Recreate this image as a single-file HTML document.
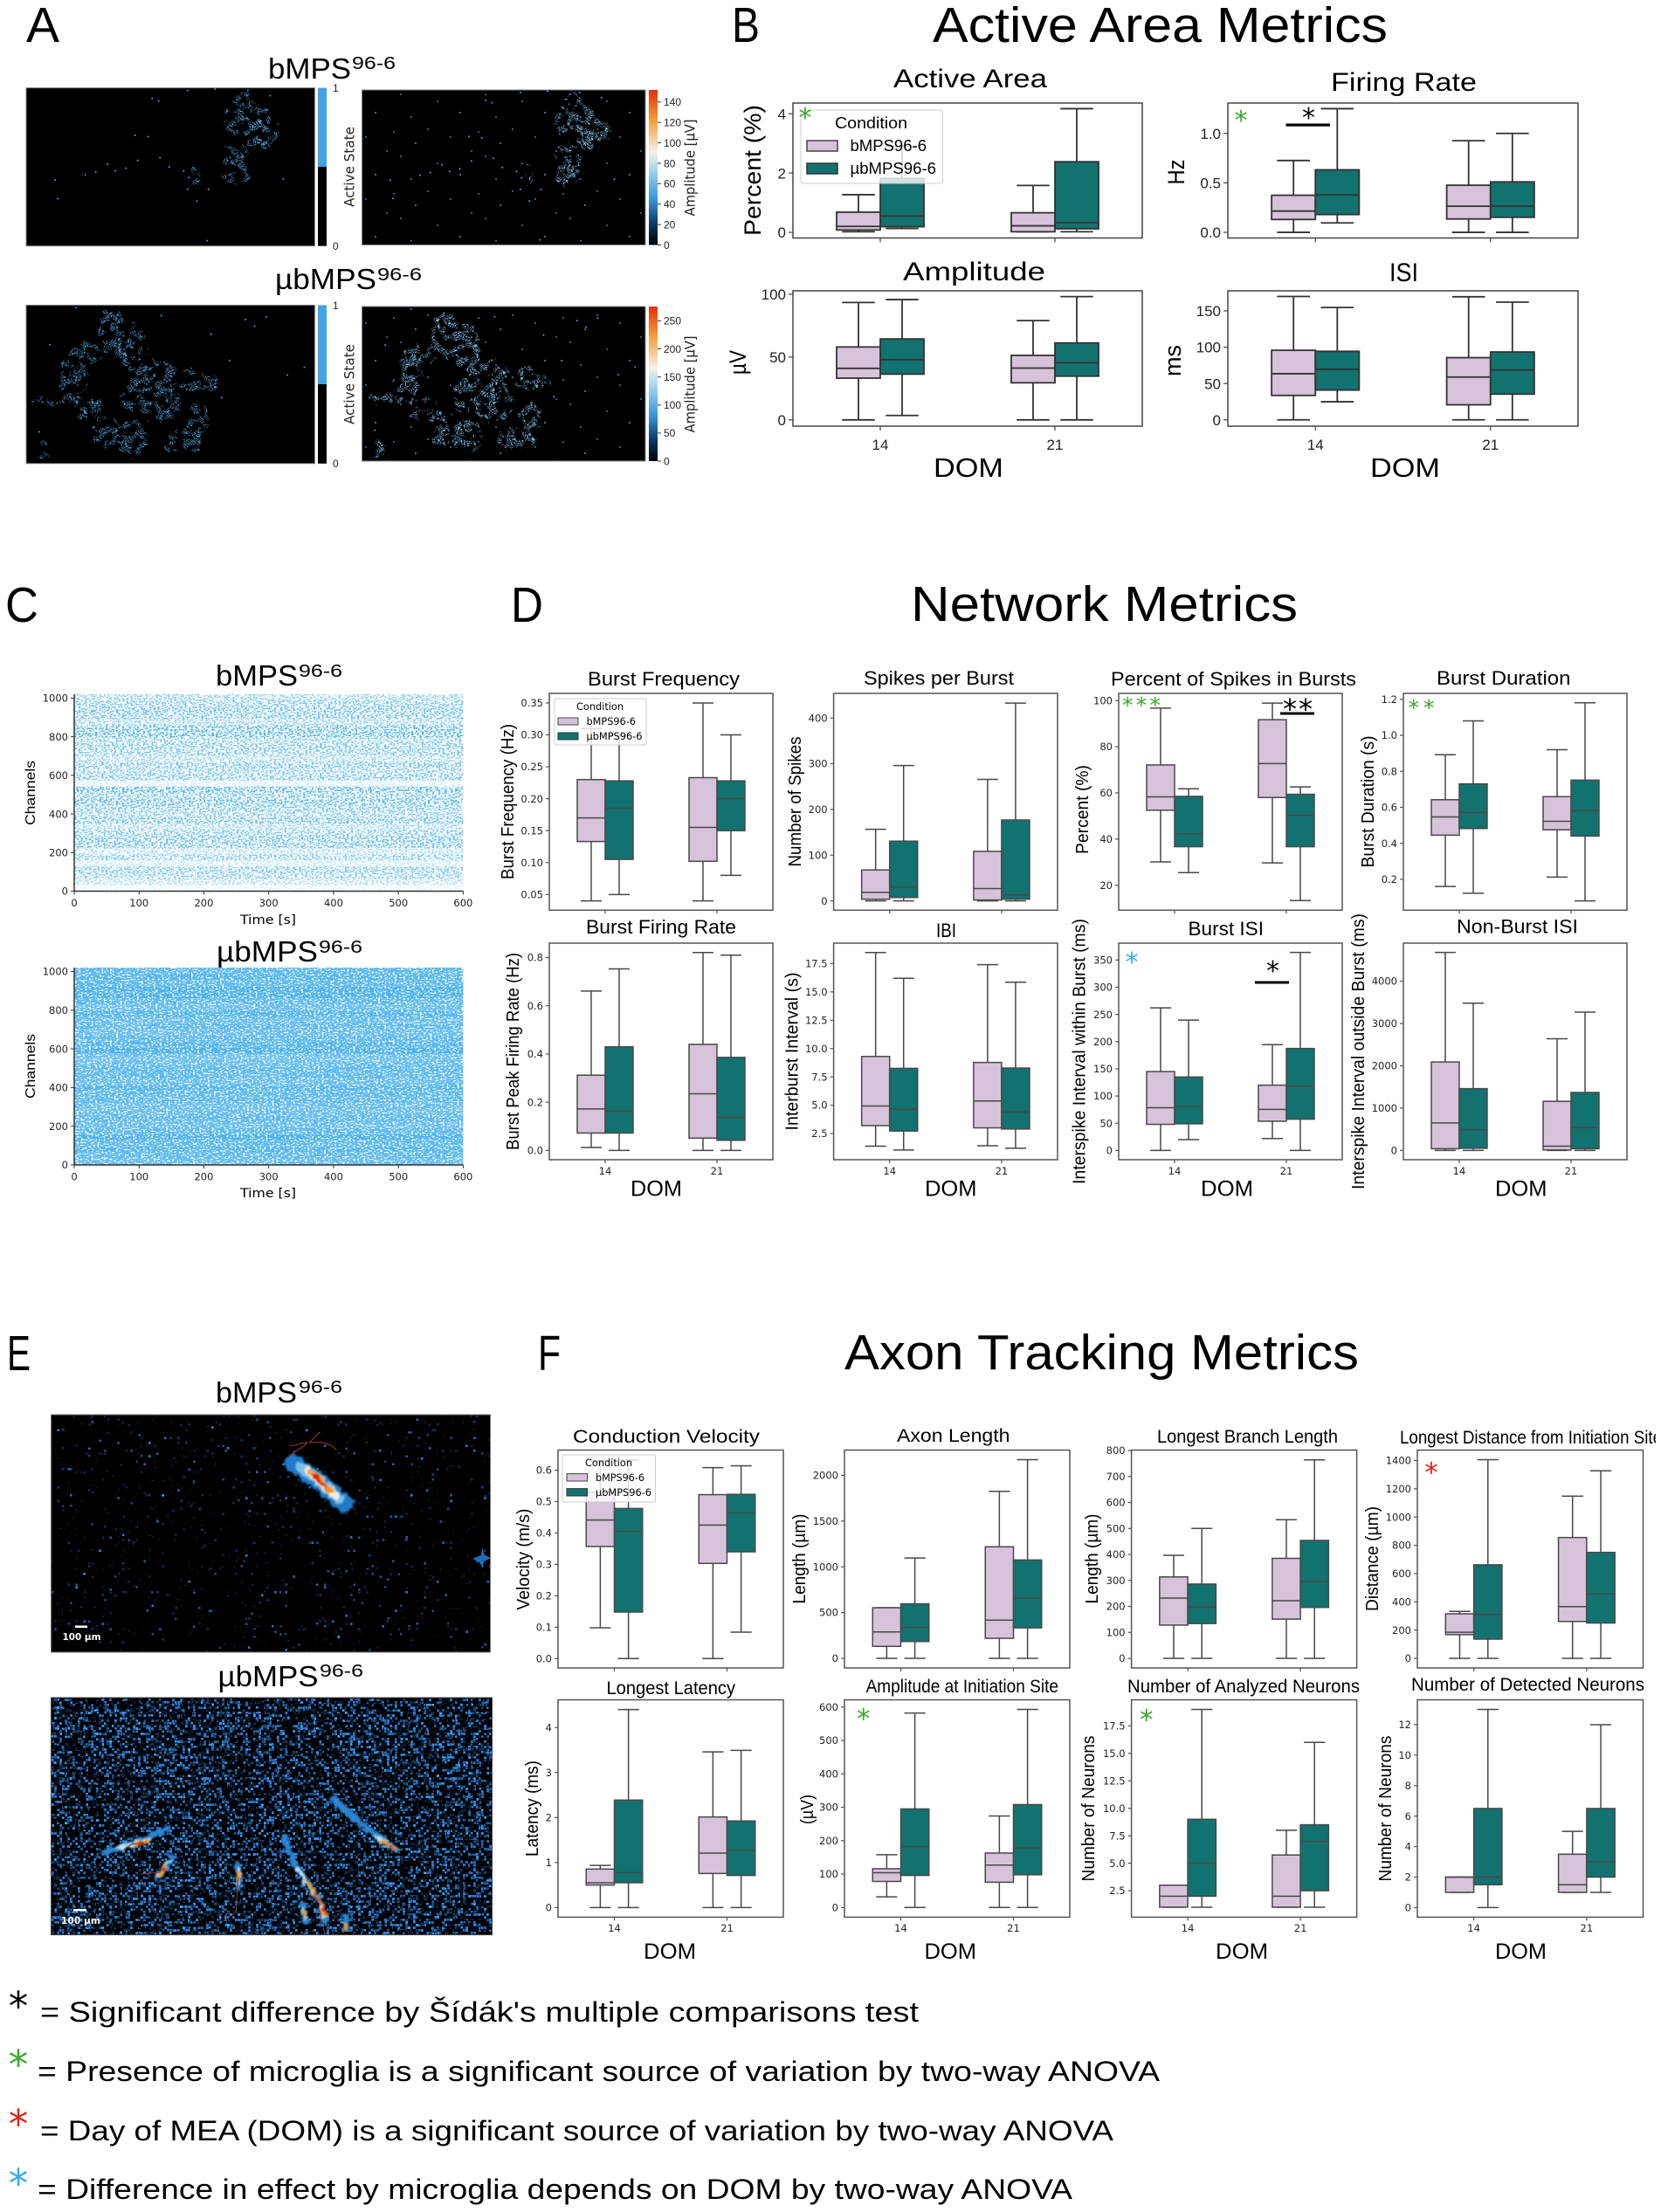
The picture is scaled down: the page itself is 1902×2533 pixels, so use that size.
<!DOCTYPE html>
<html lang="en">
<head>
<meta charset="utf-8">
<title>Microglia MEA metrics figure</title>
<style>
html,body{margin:0;padding:0;background:#fff}
svg{display:block}
text{fill:#000;font-family:"Liberation Sans","Noto Sans CJK SC",sans-serif}
.big{font-size:57px}
.cond{font-size:33px}
.sup{font-size:20px}
.tb{font-size:30px}
.td{font-size:22px}
.tf{font-size:21px}
.yb{font-size:27px;dominant-baseline:central;text-anchor:middle}
.yd{font-size:20px;dominant-baseline:central;text-anchor:middle}
.yc{font-size:16px;dominant-baseline:central;text-anchor:middle}
.dom{font-size:25px}
.domb{font-size:31px}
.lg{font-size:18px}
.lgs{font-size:11.5px;font-family:"DejaVu Sans",sans-serif}
.star{font-family:"DejaVu Sans",sans-serif;text-anchor:middle}
.foot{font-size:32px}
.xt{font-size:14px;font-family:"DejaVu Sans",sans-serif;text-anchor:middle}
.as{font-size:16px;font-family:"DejaVu Sans",sans-serif;dominant-baseline:central;text-anchor:middle;fill:#222}
.sm{font-size:12px;fill:#222}
.scale{font-size:11px;font-weight:bold;font-family:"DejaVu Sans",sans-serif;fill:#fff}
</style>
</head>
<body>
<svg id="figure" width="1902" height="2533" viewBox="0 0 1902 2533">
<defs>
<linearGradient id="ampGradient" x1="0" y1="1" x2="0" y2="0">
<stop offset="0" stop-color="#000"/><stop offset=".14" stop-color="#0a3a6b"/><stop offset=".3" stop-color="#3a97dc"/><stop offset=".48" stop-color="#a0d4f0"/><stop offset=".6" stop-color="#f5f0e8"/><stop offset=".8" stop-color="#f5a040"/><stop offset="1" stop-color="#e5300a"/>
</linearGradient>
<pattern id="activeDots" width="4.2" height="4.2" patternUnits="userSpaceOnUse"><circle cx="1" cy="1" r=".95" fill="#4f9fd6"/><circle cx="3.1" cy="3.1" r=".95" fill="#4f9fd6"/></pattern>
<pattern id="activeDotsBright" width="4.2" height="4.2" patternUnits="userSpaceOnUse"><circle cx="1" cy="1" r=".95" fill="#6ab4e2"/><circle cx="3.1" cy="3.1" r=".95" fill="#8cc6ea"/></pattern>
<pattern id="sparseDots" width="97" height="71" patternUnits="userSpaceOnUse"><circle cx="5" cy="6" r=".9" fill="#4f9fd6"/><circle cx="31" cy="15" r=".9" fill="#4f9fd6"/><circle cx="16" cy="45" r=".9" fill="#4f9fd6"/><circle cx="42" cy="58" r=".9" fill="#7fb8dd"/><circle cx="63" cy="9" r=".9" fill="#4f9fd6"/><circle cx="71" cy="37" r=".9" fill="#4f9fd6"/><circle cx="88" cy="22" r=".9" fill="#7fb8dd"/><circle cx="55" cy="31" r=".9" fill="#4f9fd6"/><circle cx="83" cy="63" r=".9" fill="#4f9fd6"/></pattern>
<filter id="holes" x="-5%" y="-5%" width="110%" height="110%" color-interpolation-filters="sRGB"><feTurbulence type="fractalNoise" baseFrequency="0.1" numOctaves="2" seed="5" result="n"/><feDisplacementMap in="SourceGraphic" in2="n" scale="16" xChannelSelector="R" yChannelSelector="G" result="d"/><feColorMatrix in="n" values="0 0 0 0 0 0 0 0 0 0 0 0 0 0 0 10 0 0 0 -4.5" result="m"/><feComposite in="d" in2="m" operator="in"/></filter>
<filter id="speckleLight" x="0" y="0" width="100%" height="100%" color-interpolation-filters="sRGB"><feTurbulence type="fractalNoise" baseFrequency="0.42 0.62" numOctaves="1" seed="4"/><feColorMatrix values="0 0 0 0 1 0 0 0 0 1 0 0 0 0 1 12 0 0 0 -5.2"/></filter>
<filter id="speckleDense" x="0" y="0" width="100%" height="100%" color-interpolation-filters="sRGB"><feTurbulence type="fractalNoise" baseFrequency="0.42 0.62" numOctaves="1" seed="11"/><feColorMatrix values="0 0 0 0 1 0 0 0 0 1 0 0 0 0 1 12 0 0 0 -6.6"/></filter>
<filter id="heatSparse" x="0" y="0" width="100%" height="100%" color-interpolation-filters="sRGB">
<feTurbulence type="fractalNoise" baseFrequency="0.9" numOctaves="1" seed="7" result="noise"/>
<feFlood x="60" y="1622" width="1" height="1"/><feComposite x="59" y="1621" width="3" height="3"/><feTile result="grid"/>
<feComposite in="noise" in2="grid" operator="in"/><feMorphology operator="dilate" radius="1"/>
<feColorMatrix values="0 .3 0 0 0 0 .9 0 0 0 0 1.5 0 0 0 14 0 0 0 -9.6"/>
</filter>
<filter id="heatDense" x="0" y="0" width="100%" height="100%" color-interpolation-filters="sRGB">
<feTurbulence type="fractalNoise" baseFrequency="0.9" numOctaves="1" seed="21" result="noise"/>
<feFlood x="60" y="1946" width="1" height="1"/><feComposite x="59" y="1945" width="3" height="3"/><feTile result="grid"/>
<feComposite in="noise" in2="grid" operator="in"/><feMorphology operator="dilate" radius="1"/>
<feColorMatrix values="0 .3 0 0 0 0 .9 0 0 0 0 1.5 0 0 0 14 0 0 0 -7.6"/>
</filter>
<filter id="glow" x="-30%" y="-30%" width="160%" height="160%" color-interpolation-filters="sRGB"><feTurbulence type="fractalNoise" baseFrequency="0.18" numOctaves="2" seed="9" result="n"/><feDisplacementMap in="SourceGraphic" in2="n" scale="9" xChannelSelector="R" yChannelSelector="G"/><feGaussianBlur stdDeviation="1"/></filter>
<clipPath id="clipLongTitle"><rect x="1590" y="1625" width="306" height="40"/></clipPath>
<clipPath id="clipA1"><rect x="30" y="100.6" width="330.5" height="181"/></clipPath>
<clipPath id="clipA2"><rect x="414.5" y="103" width="324.5" height="177.5"/></clipPath>
<clipPath id="clipA3"><rect x="30" y="349.4" width="330.5" height="181.4"/></clipPath>
<clipPath id="clipA4"><rect x="414.5" y="351" width="324.5" height="177"/></clipPath>
<clipPath id="clipE1"><rect x="58.5" y="1620" width="503" height="272"/></clipPath>
<clipPath id="clipE2"><rect x="58.5" y="1944" width="505" height="271.6"/></clipPath>
</defs>

<!-- Panel letters and headings -->
<text class="big" x="30" y="48" textLength="38" lengthAdjust="spacingAndGlyphs">A</text>
<text class="big" x="838" y="48" textLength="32" lengthAdjust="spacingAndGlyphs">B</text>
<text class="big" x="6" y="712" textLength="38" lengthAdjust="spacingAndGlyphs">C</text>
<text class="big" x="585" y="712" textLength="37" lengthAdjust="spacingAndGlyphs">D</text>
<text class="big" x="8" y="1569" textLength="27" lengthAdjust="spacingAndGlyphs">E</text>
<text class="big" x="616" y="1569" textLength="26" lengthAdjust="spacingAndGlyphs">F</text>
<text class="big" x="1068" y="48" textLength="521" lengthAdjust="spacingAndGlyphs">Active Area Metrics</text>
<text class="big" x="1043" y="711" textLength="443" lengthAdjust="spacingAndGlyphs">Network Metrics</text>
<text class="big" x="967" y="1568" textLength="589" lengthAdjust="spacingAndGlyphs">Axon Tracking Metrics</text>

<!-- Panel A -->
<text class="cond" x="307" y="90" textLength="95" lengthAdjust="spacingAndGlyphs">bMPS</text>
<text class="sup" x="403" y="79" textLength="50" lengthAdjust="spacingAndGlyphs">96-6</text>
<text class="cond" x="315" y="331" textLength="116" lengthAdjust="spacingAndGlyphs">µbMPS</text>
<text class="sup" x="432" y="321" textLength="51" lengthAdjust="spacingAndGlyphs">96-6</text>
<g id="panelA"></g>
<g>
<rect x="364" y="191" width="10" height="90.7" fill="#000"/>
<rect x="364" y="100.6" width="10" height="90.4" fill="#3fa4e0"/>
<text class="sm" x="381" y="105">1</text>
<text class="sm" x="381" y="286">0</text>
<text class="as" transform="translate(400,191) rotate(-90)" textLength="92" lengthAdjust="spacingAndGlyphs">Active State</text>
</g>
<g>
<rect x="364" y="440" width="10" height="90.8" fill="#000"/>
<rect x="364" y="349.4" width="10" height="90.6" fill="#3fa4e0"/>
<text class="sm" x="381" y="354">1</text>
<text class="sm" x="381" y="535">0</text>
<text class="as" transform="translate(400,440) rotate(-90)" textLength="92" lengthAdjust="spacingAndGlyphs">Active State</text>
</g>
<text class="as" transform="translate(790,192) rotate(-90)" textLength="111" lengthAdjust="spacingAndGlyphs">Amplitude [µV]</text>
<text class="as" transform="translate(790,440) rotate(-90)" textLength="111" lengthAdjust="spacingAndGlyphs">Amplitude [µV]</text>

<!-- Panel C -->
<text class="cond" x="247" y="785" textLength="94" lengthAdjust="spacingAndGlyphs">bMPS</text>
<text class="sup" x="342" y="775" textLength="50" lengthAdjust="spacingAndGlyphs">96-6</text>
<text class="cond" x="248" y="1101" textLength="116" lengthAdjust="spacingAndGlyphs">µbMPS</text>
<text class="sup" x="365" y="1091" textLength="50" lengthAdjust="spacingAndGlyphs">96-6</text>
<g id="panelC"></g>
<text class="yc" transform="translate(35.6,908) rotate(-90)" textLength="74" lengthAdjust="spacingAndGlyphs">Channels</text>
<text class="yc" transform="translate(35.6,1221) rotate(-90)" textLength="74" lengthAdjust="spacingAndGlyphs">Channels</text>
<text class="xt" x="307" y="1058" textLength="64" lengthAdjust="spacingAndGlyphs">Time [s]</text>
<text class="xt" x="307" y="1371" textLength="64" lengthAdjust="spacingAndGlyphs">Time [s]</text>

<!-- Panel E -->
<text class="cond" x="247" y="1606" textLength="93" lengthAdjust="spacingAndGlyphs">bMPS</text>
<text class="sup" x="342" y="1595" textLength="50" lengthAdjust="spacingAndGlyphs">96-6</text>
<text class="cond" x="249.5" y="1931" textLength="115" lengthAdjust="spacingAndGlyphs">µbMPS</text>
<text class="sup" x="366" y="1920" textLength="50" lengthAdjust="spacingAndGlyphs">96-6</text>

<g clip-path="url(#clipE1)">
<rect x="58.5" y="1620" width="503" height="272" fill="#000"/>
<rect x="58.5" y="1620" width="503" height="272" filter="url(#heatSparse)"/>
<g fill="none" stroke-linecap="round" filter="url(#glow)">
<polyline points="335,1675 360,1692 395,1722" stroke="#2179c9" stroke-width="20"/>
<polyline points="345,1680 365,1695 388,1716" stroke="#7cc0ee" stroke-width="13"/>
<polyline points="352,1683 384,1713" stroke="#f4ecdc" stroke-width="9"/>
<polyline points="356,1685 378,1707" stroke="#f7912a" stroke-width="6"/>
<polyline points="358,1688 373,1703" stroke="#d81c05" stroke-width="3.5"/>
</g>
<path d="M352,1652C345,1652 340,1655 332,1656M352,1652C345,1660 338,1660 332,1668M354,1652C362,1645 364,1640 367,1640M354,1652C365,1650 378,1652 385,1660" fill="none" stroke="#a03a3a" stroke-width="1"/>
<path d="M541,1785l10,-4l1,-9l3,9l7,3l-8,4l-1,8l-4,-7z" fill="#1f6fb6"/>
<rect x="86" y="1861.5" width="14" height="2.5" fill="#fff"/>
<text class="scale" x="71.5" y="1878" textLength="44" lengthAdjust="spacingAndGlyphs">100 µm</text>
</g>

<g clip-path="url(#clipE2)">
<rect x="58.5" y="1944" width="505" height="271.6" fill="#000"/>
<rect x="58.5" y="1944" width="505" height="271.6" filter="url(#heatDense)"/>
<g fill="none" stroke-linecap="round" filter="url(#glow)">
<path d="M119,2121L150,2112L191,2094M180,2151L199,2126M272,2135L274,2163M325,2103L337,2135L367,2177L373,2199M346,2181L350,2199M381,2059L406,2082L453,2119M396,2195L396,2209" stroke="#2b85d2" stroke-width="7"/>
<path d="M135,2116L172,2107M183,2148L192,2131M273,2141L274,2158M340,2140L366,2176L371,2195M347,2186L350,2196M432,2104L452,2118" stroke="#bfe2f6" stroke-width="5"/>
<path d="M155,2112L168,2109M184,2147L189,2136M273,2144L273,2154M352,2155L368,2178L372,2192M348,2188L349,2194M436,2108L452,2118M396,2205L396,2210" stroke="#f59a2c" stroke-width="4"/>
<path d="M160,2111L165,2110M186,2142L187,2138M362,2170L367,2180M371,2185L373,2191M445,2113L452,2118" stroke="#d9260a" stroke-width="2.5"/>
</g>
<path d="M142,2118L150,2112L165,2110M184,2144L160,2146M273,2150L270,2190L255,2200M365,2185L372,2215" fill="none" stroke="#8a3535" stroke-width="1"/>
<rect x="84" y="2186" width="15" height="2.5" fill="#fff"/>
<text class="scale" x="70" y="2203" textLength="45" lengthAdjust="spacingAndGlyphs">100 µm</text>
</g>
<rect x="58.5" y="1620" width="503" height="272" fill="none" stroke="#777" stroke-width="1"/>
<rect x="58.5" y="1944" width="505" height="271.6" fill="none" stroke="#444" stroke-width="1"/>

<!-- Box plots are drawn here by the script -->
<g id="plots"></g>

<!-- Panel B labels -->
<text class="tb" x="1023" y="100" textLength="176" lengthAdjust="spacingAndGlyphs">Active Area</text>
<text class="tb" x="1524" y="104" textLength="167" lengthAdjust="spacingAndGlyphs">Firing Rate</text>
<text class="tb" x="1034" y="321" textLength="163" lengthAdjust="spacingAndGlyphs">Amplitude</text>
<text class="tb" x="1591" y="322" textLength="33" lengthAdjust="spacingAndGlyphs">ISI</text>
<text class="yb" transform="translate(862,195) rotate(-90)" textLength="150" lengthAdjust="spacingAndGlyphs">Percent (%)</text>
<text class="yb" transform="translate(1347,197) rotate(-90)" textLength="29" lengthAdjust="spacingAndGlyphs">Hz</text>
<text class="yb" transform="translate(845,415) rotate(-90)" textLength="28" lengthAdjust="spacingAndGlyphs">µV</text>
<text class="yb" transform="translate(1343,413) rotate(-90)" textLength="36" lengthAdjust="spacingAndGlyphs">ms</text>
<text class="domb" x="1069" y="546" textLength="80" lengthAdjust="spacingAndGlyphs">DOM</text>
<text class="domb" x="1569" y="546" textLength="80" lengthAdjust="spacingAndGlyphs">DOM</text>

<g>
<rect x="917" y="126" width="162.5" height="84" rx="3" fill="#fff" fill-opacity=".8" stroke="#ccc"/>
<text class="lg" x="956" y="147" textLength="83" lengthAdjust="spacingAndGlyphs">Condition</text>
<rect x="924" y="161" width="35" height="12" fill="#d6c3d9" stroke="#444" stroke-width="1.5"/>
<text class="lg" x="973.5" y="173" textLength="87.5" lengthAdjust="spacingAndGlyphs">bMPS96-6</text>
<rect x="924" y="187" width="35" height="12" fill="#12726f" stroke="#333" stroke-width="1.5"/>
<text class="lg" x="973.5" y="199" textLength="98.5" lengthAdjust="spacingAndGlyphs">µbMPS96-6</text>
</g>
<text class="star" font-size="30" style="fill:#3aa82c" x="922" y="145">*</text>
<text class="star" font-size="30" style="fill:#3aa82c" x="1421" y="148">*</text>
<text class="star" font-size="30" x="1498.5" y="145">*</text>
<rect x="1472.5" y="141.5" width="50.5" height="3.2" fill="#000"/>

<!-- Panel D labels -->
<text class="td" x="673" y="785" textLength="174" lengthAdjust="spacingAndGlyphs">Burst Frequency</text>
<text class="td" x="989" y="784" textLength="172" lengthAdjust="spacingAndGlyphs">Spikes per Burst</text>
<text class="td" x="1272" y="785" textLength="281" lengthAdjust="spacingAndGlyphs">Percent of Spikes in Bursts</text>
<text class="td" x="1645" y="784" textLength="153.5" lengthAdjust="spacingAndGlyphs">Burst Duration</text>
<text class="td" x="671" y="1069" textLength="172" lengthAdjust="spacingAndGlyphs">Burst Firing Rate</text>
<text class="td" x="1072" y="1073" textLength="23" lengthAdjust="spacingAndGlyphs">IBI</text>
<text class="td" x="1360.5" y="1071" textLength="86.5" lengthAdjust="spacingAndGlyphs">Burst ISI</text>
<text class="td" x="1668" y="1068.5" textLength="139" lengthAdjust="spacingAndGlyphs">Non-Burst ISI</text>
<text class="yd" transform="translate(582,918) rotate(-90)" textLength="178" lengthAdjust="spacingAndGlyphs">Burst Frequency (Hz)</text>
<text class="yd" transform="translate(911,918) rotate(-90)" textLength="149" lengthAdjust="spacingAndGlyphs">Number of Spikes</text>
<text class="yd" transform="translate(1240,927) rotate(-90)" textLength="102" lengthAdjust="spacingAndGlyphs">Percent (%)</text>
<text class="yd" transform="translate(1567,918) rotate(-90)" textLength="151" lengthAdjust="spacingAndGlyphs">Burst Duration (s)</text>
<text class="yd" transform="translate(588,1204) rotate(-90)" textLength="226" lengthAdjust="spacingAndGlyphs">Burst Peak Firing Rate (Hz)</text>
<text class="yd" transform="translate(907.4,1204) rotate(-90)" textLength="181" lengthAdjust="spacingAndGlyphs">Interburst Interval (s)</text>
<text class="yd" transform="translate(1236.5,1204) rotate(-90)" textLength="304" lengthAdjust="spacingAndGlyphs">Interspike Interval within Burst (ms)</text>
<text class="yd" transform="translate(1556,1204) rotate(-90)" textLength="316" lengthAdjust="spacingAndGlyphs">Interspike Interval outside Burst (ms)</text>
<text class="dom" x="722" y="1369.5" textLength="59" lengthAdjust="spacingAndGlyphs">DOM</text>
<text class="dom" x="1059" y="1369.5" textLength="59.5" lengthAdjust="spacingAndGlyphs">DOM</text>
<text class="dom" x="1375" y="1369.5" textLength="60" lengthAdjust="spacingAndGlyphs">DOM</text>
<text class="dom" x="1712" y="1369.5" textLength="59.5" lengthAdjust="spacingAndGlyphs">DOM</text>

<g>
<rect x="635" y="800" width="105" height="53" rx="2" fill="#fff" fill-opacity=".8" stroke="#ccc"/>
<text class="lgs" x="660" y="813" textLength="54" lengthAdjust="spacingAndGlyphs">Condition</text>
<rect x="639" y="822" width="23" height="8" fill="#d6c3d9" stroke="#444"/>
<text class="lgs" x="671.5" y="830" textLength="56.5" lengthAdjust="spacingAndGlyphs">bMPS96-6</text>
<rect x="639" y="839" width="23" height="8" fill="#12726f" stroke="#333"/>
<text class="lgs" x="671.5" y="847" textLength="64" lengthAdjust="spacingAndGlyphs">µbMPS96-6</text>
</g>
<text class="star" font-size="25" style="fill:#3aa82c" x="1307" y="816" textLength="44" lengthAdjust="spacing">***</text>
<text class="star" font-size="25" style="fill:#3aa82c" x="1627.5" y="819" textLength="30" lengthAdjust="spacing">**</text>
<rect x="1466" y="815.5" width="39" height="3" fill="#000"/>
<text class="star" font-size="32" x="1486" y="823" textLength="34" lengthAdjust="spacing">**</text>
<text class="star" font-size="30" style="fill:#38ace4" x="1296" y="1112">*</text>
<rect x="1437" y="1123.5" width="39" height="3" fill="#000"/>
<text class="star" font-size="30" x="1457.5" y="1122">*</text>

<!-- Panel F labels -->
<text class="tf" x="656" y="1652" textLength="214" lengthAdjust="spacingAndGlyphs">Conduction Velocity</text>
<text class="tf" x="1027" y="1651" textLength="129.5" lengthAdjust="spacingAndGlyphs">Axon Length</text>
<text class="tf" x="1325" y="1652" textLength="207" lengthAdjust="spacingAndGlyphs">Longest Branch Length</text>
<g clip-path="url(#clipLongTitle)"><text class="tf" x="1603" y="1653" textLength="300" lengthAdjust="spacingAndGlyphs">Longest Distance from Initiation Site</text></g>
<text class="tf" x="694.5" y="1940" textLength="147.5" lengthAdjust="spacingAndGlyphs">Longest Latency</text>
<text class="tf" x="991.6" y="1938" textLength="220.4" lengthAdjust="spacingAndGlyphs">Amplitude at Initiation Site</text>
<text class="tf" x="1291" y="1938" textLength="266" lengthAdjust="spacingAndGlyphs">Number of Analyzed Neurons</text>
<text class="tf" x="1616" y="1936" textLength="267" lengthAdjust="spacingAndGlyphs">Number of Detected Neurons</text>
<text class="yd" transform="translate(600,1785.6) rotate(-90)" textLength="116" lengthAdjust="spacingAndGlyphs">Velocity (m/s)</text>
<text class="yd" transform="translate(916,1785) rotate(-90)" textLength="103" lengthAdjust="spacingAndGlyphs">Length (µm)</text>
<text class="yd" transform="translate(1251,1785) rotate(-90)" textLength="103" lengthAdjust="spacingAndGlyphs">Length (µm)</text>
<text class="yd" transform="translate(1572,1785) rotate(-90)" textLength="120" lengthAdjust="spacingAndGlyphs">Distance (µm)</text>
<text class="yd" transform="translate(610,2071) rotate(-90)" textLength="110" lengthAdjust="spacingAndGlyphs">Latency (ms)</text>
<text class="yd" transform="translate(925,2072) rotate(-90)" textLength="34" lengthAdjust="spacingAndGlyphs">(µV)</text>
<text class="yd" transform="translate(1247,2071) rotate(-90)" textLength="167" lengthAdjust="spacingAndGlyphs">Number of Neurons</text>
<text class="yd" transform="translate(1587,2071) rotate(-90)" textLength="167" lengthAdjust="spacingAndGlyphs">Number of Neurons</text>
<text class="dom" x="737" y="2243" textLength="60" lengthAdjust="spacingAndGlyphs">DOM</text>
<text class="dom" x="1058.5" y="2243" textLength="59.5" lengthAdjust="spacingAndGlyphs">DOM</text>
<text class="dom" x="1392" y="2243" textLength="60" lengthAdjust="spacingAndGlyphs">DOM</text>
<text class="dom" x="1712" y="2243" textLength="59" lengthAdjust="spacingAndGlyphs">DOM</text>

<g>
<rect x="644" y="1666" width="106.5" height="54" rx="2" fill="#fff" fill-opacity=".8" stroke="#ccc"/>
<text class="lgs" x="670" y="1679" textLength="54" lengthAdjust="spacingAndGlyphs">Condition</text>
<rect x="649" y="1687.6" width="23.6" height="8.4" fill="#d6c3d9" stroke="#444"/>
<text class="lgs" x="682" y="1696" textLength="56" lengthAdjust="spacingAndGlyphs">bMPS96-6</text>
<rect x="649" y="1704.6" width="23.6" height="8.4" fill="#12726f" stroke="#333"/>
<text class="lgs" x="682" y="1713" textLength="64" lengthAdjust="spacingAndGlyphs">µbMPS96-6</text>
</g>
<text class="star" font-size="31" style="fill:#e3211c" x="1639" y="1697">*</text>
<text class="star" font-size="31" style="fill:#3aa82c" x="988.7" y="1979">*</text>
<text class="star" font-size="31" style="fill:#3aa82c" x="1312.7" y="1980">*</text>

<!-- Footnotes -->
<g>
<text class="star" font-size="45" x="21" y="2313">*</text>
<text class="foot" x="46" y="2315" textLength="1006" lengthAdjust="spacingAndGlyphs">= Significant difference by Šídák's multiple comparisons test</text>
<text class="star" font-size="45" style="fill:#3aa82c" x="21" y="2380">*</text>
<text class="foot" x="43" y="2383" textLength="1285" lengthAdjust="spacingAndGlyphs">= Presence of microglia is a significant source of variation by two-way ANOVA</text>
<text class="star" font-size="45" style="fill:#e3211c" x="21" y="2448">*</text>
<text class="foot" x="46" y="2451" textLength="1229" lengthAdjust="spacingAndGlyphs">= Day of MEA (DOM) is a significant source of variation by two-way ANOVA</text>
<text class="star" font-size="45" style="fill:#38ace4" x="21" y="2516">*</text>
<text class="foot" x="43" y="2518" textLength="1185" lengthAdjust="spacingAndGlyphs">= Difference in effect by microglia depends on DOM by two-way ANOVA</text>
</g>
</svg>

<script>
// ---------- Box-plot data: each box is [whisker low, Q1, median, Q3, whisker high] ----------
// Box order in every array: bMPS DOM14, µbMPS DOM14, bMPS DOM21, µbMPS DOM21.
const categories = ['14', '21'];
const conditions = ['bMPS96-6', 'µbMPS96-6'];

const activeAreaBoxes = [[0.02,0.08,0.2,0.68,1.27],[0.13,0.19,0.55,1.82,2.9],[0.02,0.02,0.22,0.66,1.58],[0.02,0.12,0.33,2.38,4.17]];
const activeAreaTicks = ['0','2','4'];
const activeAreaLim = [-0.19,4.36];
const firingRateBoxes = [[0,0.13,0.215,0.375,0.726],[0.095,0.18,0.378,0.632,1.25],[0,0.135,0.264,0.476,0.926],[0,0.152,0.264,0.51,1.0]];
const firingRateTicks = ['0.0','0.5','1.0'];
const firingRateLim = [-0.057,1.307];
const amplitudeBoxes = [[0,33.2,41,58,93.4],[3.5,36.4,47.9,64.4,95.7],[0,29.5,41.2,51.3,79],[0,34.8,45.5,61.2,98.1]];
const amplitudeTicks = ['0','50','100'];
const amplitudeLim = [-5,102.7];
const isiBoxes = [[0,33.6,63.5,95.7,169.8],[24.9,41,69.5,94.3,154.6],[0,20.7,58.9,85.6,169.4],[0,35.4,68.6,93.4,162]];
const isiTicks = ['0','50','100','150'];
const isiLim = [-8.7,177.6];

const burstFrequencyBoxes = [[0.04,0.133,0.17,0.23,0.31],[0.05,0.105,0.185,0.228,0.30],[0.04,0.102,0.155,0.233,0.35],[0.08,0.15,0.2,0.228,0.30]];
const burstFrequencyTicks = ['0.05','0.10','0.15','0.20','0.25','0.30','0.35'];
const burstFrequencyLim = [0.0254,0.365];
const spikesBoxes = [[0,3.7,18.5,67.6,156.5],[0,7.4,30.6,130.6,296],[0,1.9,26.9,108.3,265.7],[0,3.7,13,176.9,432.4]];
const spikesTicks = ['0','100','200','300','400'];
const spikesLim = [-20.4,453.7];
const percentSpikesBoxes = [[30.1,52.5,58.3,72.1,96.7],[25.5,36.7,42.2,58.5,61.8],[29.7,58,72.7,91.7,98.9],[13.4,36.7,50.3,59.4,62.6]];
const percentSpikesTicks = ['20','40','60','80','100'];
const percentSpikesLim = [9.2,103.1];
const burstDurationBoxes = [[0.16,0.445,0.546,0.642,0.892],[0.122,0.482,0.572,0.73,1.08],[0.212,0.475,0.522,0.659,0.92],[0.08,0.44,0.581,0.751,1.181]];
const burstDurationTicks = ['0.2','0.4','0.6','0.8','1.0','1.2'];
const burstDurationLim = [0.028,1.233];
const burstRateBoxes = [[0.012,0.072,0.172,0.312,0.661],[0,0.072,0.163,0.43,0.753],[0,0.051,0.235,0.44,0.821],[0,0.042,0.137,0.386,0.81]];
const burstRateTicks = ['0.0','0.2','0.4','0.6','0.8'];
const burstRateLim = [-0.0386,0.86];
const ibiBoxes = [[1.38,3.2,4.93,9.3,18.47],[1.05,2.72,4.63,8.25,16.2],[1.42,3.0,5.37,8.77,17.4],[1.2,2.9,4.4,8.28,15.85]];
const ibiTicks = ['2.5','5.0','7.5','10.0','12.5','15.0','17.5'];
const ibiLim = [0.19,19.3];
const burstIsiBoxes = [[0,48,78.5,145,262],[20,49,81,135,239.5],[22,53.7,75.4,120,194.4],[0,57.5,118,187.4,364]];
const burstIsiTicks = ['0','50','100','150','200','250','300','350'];
const burstIsiLim = [-17,381];
const nonBurstIsiBoxes = [[0,40,650,2090,4680],[0,50,490,1460,3480],[0,10,100,1160,2640],[0,40,540,1370,3270]];
const nonBurstIsiTicks = ['0','1000','2000','3000','4000'];
const nonBurstIsiLim = [-220,4900];

const velocityBoxes = [[0.098,0.357,0.441,0.53,0.63],[0,0.148,0.405,0.478,0.632],[0,0.303,0.425,0.522,0.608],[0.084,0.34,0.464,0.523,0.614]];
const velocityTicks = ['0.0','0.1','0.2','0.3','0.4','0.5','0.6'];
const velocityLim = [-0.03,0.664];
const axonLengthBoxes = [[0,131,289,553,553],[0,184,338,596,1096],[0,219,417,1219,1825],[0,333,658,1075,2171]];
const axonLengthTicks = ['0','500','1000','1500','2000'];
const axonLengthLim = [-105,2276];
const branchLengthBoxes = [[0,128,232,313.5,397],[0,134,198,286,500],[0,151,222,385,534],[0,196,296.5,454,764]];
const branchLengthTicks = ['0','100','200','300','400','500','600','700','800'];
const branchLengthLim = [-37,802];
const distanceBoxes = [[0,168,185,315,332],[0,136,310,662,1406],[0,261,366,855,1148],[0,250,457,750,1327]];
const distanceTicks = ['0','200','400','600','800','1000','1200','1400'];
const distanceLim = [-68,1474];
const latencyBoxes = [[0,0.5,0.55,0.855,0.935],[0,0.552,0.775,2.388,4.4],[0,0.757,1.21,2.013,3.457],[0,0.713,1.274,1.924,3.492]];
const latencyTicks = ['0','1','2','3','4'];
const latencyLim = [-0.214,4.615];
const initiationBoxes = [[32,78,104,116,158],[0,96,182,295,582],[0,75.6,127,163,274],[0,98,179,308,593]];
const initiationTicks = ['0','100','200','300','400','500','600'];
const initiationLim = [-29,621.6];
const analyzedBoxes = [[1,1,2,3,3],[1,2,5,9,19],[1,1,2,5.75,8],[1,2.5,7,8.5,16]];
const analyzedTicks = ['2.5','5.0','7.5','10.0','12.5','15.0','17.5'];
const analyzedLim = [0.09,19.87];
const detectedBoxes = [[1,1,2,2,2],[0,1.5,2,6.5,13],[1,1,1.5,3.5,5],[1,2,3,6.5,12]];
const detectedTicks = ['0','2','4','6','8','10','12'];
const detectedLim = [-0.63,13.63];

// ---------- Spike raster: spike density per 32-channel bin, bottom to top ----------
const rasterTopDensity = [0.12,0.45,0.7,0.75,0.3,0.7,0.45,0.85,0.85,0.75,0.55,0.85,0.7,0.8,0.95,0.8,1.0,0.2,0.8,0.7,0.8,0.55,0.75,0.8,0.7,1.0,0.95,0.6,0.8,0.85,0.75,0.65];
const rasterBottomDensity = [0.85,0.9,0.95,0.9,1,0.9,0.85,0.9,0.85,0.85,0.9,0.9,0.95,0.85,0.9,0.9,0.85,0.82,1,0.95,0.9,0.85,0.9,0.85,0.95,0.85,0.9,1,1,0.9,0.95,0.9];
const rasterTimeTicks = ['0','100','200','300','400','500','600'];
const rasterChannelTicks = ['0','200','400','600','800','1000'];

// ---------- Activity maps: electrode grid (220 × 120) clusters [col,row,radiusCol,radiusRow,tilt] and single sites [col,row] ----------
const bmpsClusters = [[168,24,18,13,0],[180,32,14,14,0],[165,8,6,5,0],[177,40,9,6,0],[160,52,11,11,0],[160,66,12,7,0],[130,67,3,9,0]];
const bmpsSites = [[96,8],[101,10],[123,2],[83,36],[93,37],[102,53],[62,58],[45,66],[53,64],[68,63],[76,61],[85,55],[109,60],[22,70],[24,84],[120,63],[124,68],[123,77],[130,86],[138,116],[139,77],[196,69],[186,6],[169,2],[144,1]];
const microgliaClusters = [[66,22,11,18,0],[82,32,11,18,0],[47,37,14,8,0],[65,12,5,8,0],[36,55,12,14,0],[100,55,16,13,0],[103,75,16,14,0],[80,68,8,13,0],[49,80,12,6,-40],[63,96,11,13,0],[82,101,12,13,0],[132,59,16,6,0],[24,72,19,3,0],[121,103,16,9,0],[132,86,8,13,0],[15,110,4,8,0],[128,50,5,4,0]];
const microgliaSites = [[103,8],[38,2],[141,22],[174,16],[183,9],[167,11],[155,42],[199,53],[212,47],[18,30],[10,96],[149,70]];
const amplitudeBarTopTicks = ['0','20','40','60','80','100','120','140'];
const amplitudeBarTopMax = 151.8;
const amplitudeBarBottomTicks = ['0','50','100','150','200','250'];
const amplitudeBarBottomMax = 275.6;

// ---------- Layout (separate from data) ----------
const svg = document.getElementById('figure');
const NS = svg.namespaceURI;
function make(tag, parent, attrs, content) {
  const el = document.createElementNS(NS, tag);
  for (const k in attrs) el.setAttribute(k, attrs[k]);
  if (content !== undefined) el.textContent = content;
  parent.appendChild(el);
  return el;
}
const PINK = '#d6c3d9', TEAL = '#12726f';
const panelB = {cols:[[908,1308],[1406,1807]], rows:[[118,272.5],[333,488]], font:'Liberation Sans', size:17, xLabelY:515, tick:5, stroke:'#333', lw:1.8, spine:'#444'};
const panelD = {cols:[[629,885],[954.6,1211],[1281,1537],[1607,1863]], rows:[[794,1042.3],[1080,1328]], font:'DejaVu Sans', size:11.5, xLabelY:1345, tick:4, stroke:'#484848', lw:1.5, spine:'#555'};
const panelF = {cols:[[639,897],[967,1225],[1295.6,1553.6],[1623,1881.5]], rows:[[1660.5,1910],[1946.5,2195.4]], font:'DejaVu Sans', size:11.5, xLabelY:2212, tick:4, stroke:'#484848', lw:1.5, spine:'#555'};
const plots = [
  {slug:'active-area',panel:panelB,col:0,row:0,boxes:activeAreaBoxes,ticks:activeAreaTicks,lim:activeAreaLim},
  {slug:'firing-rate',panel:panelB,col:1,row:0,boxes:firingRateBoxes,ticks:firingRateTicks,lim:firingRateLim},
  {slug:'amplitude',panel:panelB,col:0,row:1,boxes:amplitudeBoxes,ticks:amplitudeTicks,lim:amplitudeLim},
  {slug:'isi',panel:panelB,col:1,row:1,boxes:isiBoxes,ticks:isiTicks,lim:isiLim},
  {slug:'burst-frequency',panel:panelD,col:0,row:0,boxes:burstFrequencyBoxes,ticks:burstFrequencyTicks,lim:burstFrequencyLim},
  {slug:'spikes-per-burst',panel:panelD,col:1,row:0,boxes:spikesBoxes,ticks:spikesTicks,lim:spikesLim},
  {slug:'percent-spikes',panel:panelD,col:2,row:0,boxes:percentSpikesBoxes,ticks:percentSpikesTicks,lim:percentSpikesLim},
  {slug:'burst-duration',panel:panelD,col:3,row:0,boxes:burstDurationBoxes,ticks:burstDurationTicks,lim:burstDurationLim},
  {slug:'burst-firing-rate',panel:panelD,col:0,row:1,boxes:burstRateBoxes,ticks:burstRateTicks,lim:burstRateLim},
  {slug:'ibi',panel:panelD,col:1,row:1,boxes:ibiBoxes,ticks:ibiTicks,lim:ibiLim},
  {slug:'burst-isi',panel:panelD,col:2,row:1,boxes:burstIsiBoxes,ticks:burstIsiTicks,lim:burstIsiLim},
  {slug:'non-burst-isi',panel:panelD,col:3,row:1,boxes:nonBurstIsiBoxes,ticks:nonBurstIsiTicks,lim:nonBurstIsiLim},
  {slug:'conduction-velocity',panel:panelF,col:0,row:0,boxes:velocityBoxes,ticks:velocityTicks,lim:velocityLim},
  {slug:'axon-length',panel:panelF,col:1,row:0,boxes:axonLengthBoxes,ticks:axonLengthTicks,lim:axonLengthLim},
  {slug:'branch-length',panel:panelF,col:2,row:0,boxes:branchLengthBoxes,ticks:branchLengthTicks,lim:branchLengthLim},
  {slug:'initiation-distance',panel:panelF,col:3,row:0,boxes:distanceBoxes,ticks:distanceTicks,lim:distanceLim},
  {slug:'longest-latency',panel:panelF,col:0,row:1,boxes:latencyBoxes,ticks:latencyTicks,lim:latencyLim},
  {slug:'initiation-amplitude',panel:panelF,col:1,row:1,boxes:initiationBoxes,ticks:initiationTicks,lim:initiationLim},
  {slug:'analyzed-neurons',panel:panelF,col:2,row:1,boxes:analyzedBoxes,ticks:analyzedTicks,lim:analyzedLim},
  {slug:'detected-neurons',panel:panelF,col:3,row:1,boxes:detectedBoxes,ticks:detectedTicks,lim:detectedLim}
];

function drawBoxPlot(p) {
  const [left, right] = p.panel.cols[p.col];
  const [top, bottom] = p.panel.rows[p.row];
  const S = p.panel;
  const y = v => bottom - (v - p.lim[0]) / (p.lim[1] - p.lim[0]) * (bottom - top);
  const unit = (right - left) / 2;
  const catX = i => left + (i + 0.5) * unit;
  const g = make('g', document.getElementById('plots'), {});
  
  

  p.boxes.forEach((box, idx) => {
    const cat = Math.floor(idx / 2), cond = idx % 2;
    const cx = catX(cat) + (cond ? 0.125 : -0.125) * unit;
    const bw = 0.25 * unit, cap = bw / 2;
    const bg = make('g', g, {});
    
    
    const common = {stroke:S.stroke, 'stroke-width':S.lw};
    const w1 = make('line', bg, Object.assign({x1:cx,x2:cx,y1:y(box[0]),y2:y(box[1])}, common));
    
    
    const w2 = make('line', bg, Object.assign({x1:cx,x2:cx,y1:y(box[3]),y2:y(box[4])}, common));
    
    
    const c1 = make('line', bg, Object.assign({x1:cx-cap/2-cap/4,x2:cx+cap/2+cap/4,y1:y(box[0]),y2:y(box[0])}, common));
    
    
    const c2 = make('line', bg, Object.assign({x1:cx-cap/2-cap/4,x2:cx+cap/2+cap/4,y1:y(box[4]),y2:y(box[4])}, common));
    
    
    const r = make('rect', bg, Object.assign({x:cx-bw/2,y:y(box[3]),width:bw,height:y(box[1])-y(box[3]),fill:cond?TEAL:PINK}, common));
    
    
    const m = make('line', bg, Object.assign({x1:cx-bw/2,x2:cx+bw/2,y1:y(box[2]),y2:y(box[2])}, common));
    
    
  });

  const frame = make('rect', g, {x:left,y:top,width:right-left,height:bottom-top,fill:'none',stroke:S.spine,'stroke-width':1.5});
  
  

  p.ticks.forEach(label => {
    const ty = y(Number(label));
    const t = make('line', g, {x1:left-S.tick,x2:left,y1:ty,y2:ty,stroke:S.spine,'stroke-width':1.2});
    
    
    const tl = make('text', g, {x:left-S.tick-3,y:ty+S.size*0.36,'text-anchor':'end',style:'font-family:"'+S.font+'",sans-serif;font-size:'+S.size+'px;fill:#222'}, label);
    
    
  });
  categories.forEach((label, i) => {
    const t = make('line', g, {x1:catX(i),x2:catX(i),y1:bottom,y2:bottom+S.tick,stroke:S.spine,'stroke-width':1.2});
    
    
    if (p.row === p.panel.rows.length - 1) {
      const tl = make('text', g, {x:catX(i),y:S.xLabelY,'text-anchor':'middle',style:'font-family:"'+S.font+'",sans-serif;font-size:'+S.size+'px;fill:#222'}, label);
      
      
    }
  });
}
plots.forEach(drawBoxPlot);

// ---------- Rasters ----------
function drawRaster(slug, density, filterId, left, right, top, bottom, tickLabelY) {
  const root = document.getElementById('panelC');
  const chanMax = 1020, timeMax = 600;
  const x = t => left + t / timeMax * (right - left);
  const y = c => bottom - c / chanMax * (bottom - top);
  const g = make('g', root, {});
  
  
  const binSize = chanMax / density.length;
  density.forEach((d, i) => {
    const r = make('rect', g, {x:left,y:y((i+1)*binSize),width:right-left,height:y(i*binSize)-y((i+1)*binSize),fill:'#4db3ee','fill-opacity':d});
    
    
  });
  const sp = make('rect', g, {x:left,y:top,width:right-left,height:bottom-top,filter:'url(#'+filterId+')'});
  
  
  const ax1 = make('line', g, {x1:left,x2:left,y1:top,y2:bottom,stroke:'#333','stroke-width':1.5});
  
  
  const ax2 = make('line', g, {x1:left,x2:right,y1:bottom,y2:bottom,stroke:'#333','stroke-width':1.5});
  
  
  rasterChannelTicks.forEach(label => {
    const ty = y(Number(label));
    const t = make('line', g, {x1:left-4,x2:left,y1:ty,y2:ty,stroke:'#333'});
    
    
    const tl = make('text', g, {x:left-7,y:ty+4.2,'text-anchor':'end',style:'font-family:"DejaVu Sans",sans-serif;font-size:11.5px;fill:#222'}, label);
    
    
  });
  rasterTimeTicks.forEach(label => {
    const tx = x(Number(label));
    const t = make('line', g, {x1:tx,x2:tx,y1:bottom,y2:bottom+4,stroke:'#333'});
    
    
    const tl = make('text', g, {x:tx,y:tickLabelY,'text-anchor':'middle',style:'font-family:"DejaVu Sans",sans-serif;font-size:11.5px;fill:#222'}, label);
    
    
  });
}
drawRaster('bmps', rasterTopDensity, 'speckleLight', 85, 530.4, 795, 1020.5, 1038);
drawRaster('microglia', rasterBottomDensity, 'speckleDense', 85, 530.4, 1108, 1334, 1351.6);

// ---------- Activity maps ----------
function drawMap(slug, clusters, sites, left, right, top, bottom, clipId, amplitude) {
  const root = document.getElementById('panelA');
  const x = c => left + c / 220 * (right - left);
  const y = r => top + r / 120 * (bottom - top);
  const sx = (right - left) / 220, sy = (bottom - top) / 120;
  const g = make('g', root, {'clip-path':'url(#'+clipId+')'});
  
  
  const bg = make('rect', g, {x:left,y:top,width:right-left,height:bottom-top,fill:'#000'});
  
  
  if (amplitude) {
    const scatter = make('rect', g, {x:left,y:top,width:right-left,height:bottom-top,fill:'url(#sparseDots)'});
    
    
  }
  const cg = make('g', g, {filter:'url(#holes)'});
  
  
  clusters.forEach(c => {
    const e = make('ellipse', cg, {cx:x(c[0]),cy:y(c[1]),rx:c[2]*sx,ry:c[3]*sy,fill:amplitude?'url(#activeDotsBright)':'url(#activeDots)',transform:'rotate('+c[4]+' '+x(c[0])+' '+y(c[1])+')'});
    
    
  });
  sites.forEach(s => {
    const d = make('circle', g, {cx:x(s[0]),cy:y(s[1]),r:1,fill:'#4f9fd6'});
    
    
  });
  const f = make('rect', root, {x:left,y:top,width:right-left,height:bottom-top,fill:'none',stroke:'#888','stroke-width':1});
  
  
}
drawMap('bmps-active', bmpsClusters, bmpsSites, 30, 360.5, 100.6, 281.7, 'clipA1', false);
drawMap('bmps-amplitude', bmpsClusters, bmpsSites, 414.5, 739, 103, 280.5, 'clipA2', true);
drawMap('microglia-active', microgliaClusters, microgliaSites, 30, 360.5, 349.4, 530.8, 'clipA3', false);
drawMap('microglia-amplitude', microgliaClusters, microgliaSites, 414.5, 739, 351, 528, 'clipA4', true);

function drawAmpBar(slug, ticks, maxValue, top, bottom) {
  const root = document.getElementById('panelA');
  const y = v => bottom - v / maxValue * (bottom - top);
  const g = make('g', root, {});
  
  
  const bar = make('rect', g, {x:743,y:top,width:10,height:bottom-top,fill:'url(#ampGradient)'});
  
  
  ticks.forEach(label => {
    const ty = y(Number(label));
    const t = make('line', g, {x1:753,x2:757,y1:ty,y2:ty,stroke:'#333'});
    
    
    const tl = make('text', g, {x:760,y:ty+4.3,style:'font-family:"Liberation Sans",sans-serif;font-size:12px;fill:#222'}, label);
    
    
  });
}
drawAmpBar('amplitude-colorbar-top', amplitudeBarTopTicks, amplitudeBarTopMax, 103, 280.5);
drawAmpBar('amplitude-colorbar-bottom', amplitudeBarBottomTicks, amplitudeBarBottomMax, 351, 528);
</script>
</body>
</html>
